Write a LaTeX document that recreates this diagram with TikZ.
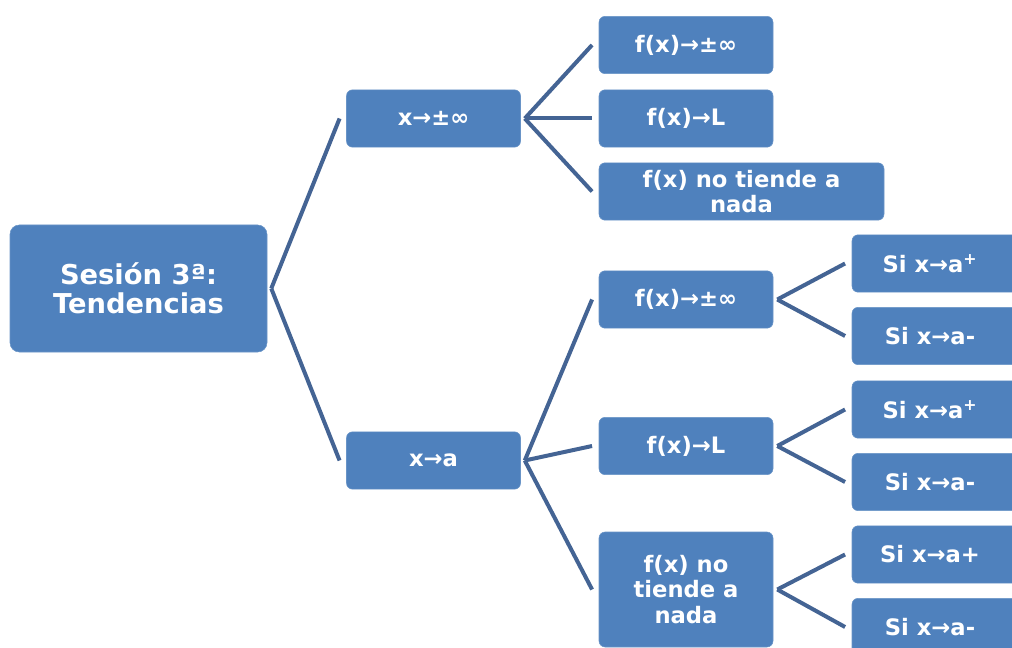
\documentclass[tikz,border=0pt]{standalone}
\usepackage{fontspec}
\setmainfont{DejaVu Sans}
\usetikzlibrary{positioning}
\definecolor{boxblue}{RGB}{79,129,189}
\definecolor{linkblue}{RGB}{68,100,148}
\tikzset{
  every picture/.style={x=0.75pt,y=-0.75pt},
  topic/.style={
    rectangle,rounded corners=4.5pt,fill=boxblue,draw=boxblue!85!white,
    text=white,font=\bfseries\fontsize{17}{19}\selectfont,
    align=center,inner sep=2pt,
    minimum width=130.5pt,minimum height=43pt
  },
  rootbox/.style={topic,rounded corners=7pt,
    font=\bfseries\fontsize{20.5}{22}\selectfont,
    minimum width=192.75pt,minimum height=95.25pt},
  casebox/.style={topic,minimum width=141pt,
    execute at end node={\hspace*{24pt}}},
  link/.style={draw=linkblue,line width=3pt}
}
\begin{document}
\begin{tikzpicture}
\useasboundingbox (0,0) rectangle (1012,648);
% tema principal
\node[rootbox] (root) at (138.5,288.5) {Sesión 3ª:\\Tendencias};
% x tiende a ...
\node[topic] (xinf) at (433.5,118.5) {x→±∞};
\node[topic] (xa) at (433.5,460.5) {x→a};
% f(x) cuando x tiende a infinito
\node[topic] (finfA) at (686,45) {f(x)→±∞};
\node[topic] (fLA) at (686,118.5) {f(x)→L};
\node[topic,minimum width=213.75pt] (fnadaA) at (741.5,191.5) {f(x) no tiende a\\nada};
% f(x) cuando x tiende a a
\node[topic] (finfB) at (686,299.5) {f(x)→±∞};
\node[topic] (fLB) at (686,446) {f(x)→L};
\node[topic,minimum height=86.25pt] (fnadaB) at (686,589.5) {f(x) no\\tiende a\\nada};
% limites laterales
\node[casebox] (sA1) at (946,263.5) {Si x→a\textsuperscript{+}};
\node[casebox] (sA2) at (946,336) {Si x→a-};
\node[casebox] (sB1) at (946,409.5) {Si x→a\textsuperscript{+}};
\node[casebox] (sB2) at (946,482) {Si x→a-};
\node[casebox] (sC1) at (946,554.5) {Si x→a+};
\node[casebox] (sC2) at (946,627) {Si x→a-};
% conectores
\foreach \p/\c in {root/xinf,root/xa,
    xinf/finfA,xinf/fLA,xinf/fnadaA,
    xa/finfB,xa/fLB,xa/fnadaB,
    finfB/sA1,finfB/sA2,fLB/sB1,fLB/sB2,fnadaB/sC1,fnadaB/sC2}
  \draw[link] ([xshift=3pt]\p.east) -- ([xshift=-5pt]\c.west);
\end{tikzpicture}
\end{document}
